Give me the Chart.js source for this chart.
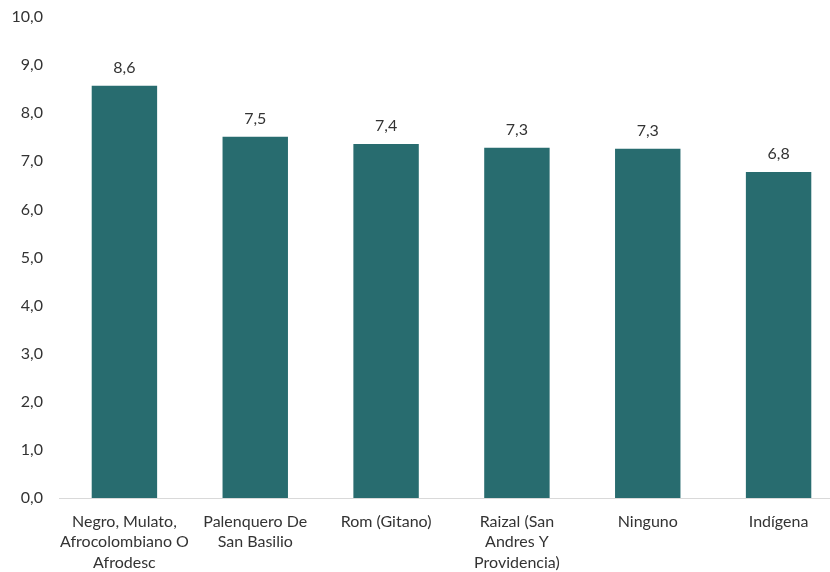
<!DOCTYPE html>
<html>
<head>
<meta charset="utf-8">
<script src="https://cdn.jsdelivr.net/npm/chart.js@4.4.1/dist/chart.umd.min.js"></script>
<style>
  html, body { margin: 0; padding: 0; background: #fff; overflow: hidden; }
  #wrap { width: 844px; height: 572px; position: relative; }
</style>
</head>
<body>
<div id="wrap"><canvas id="chart"></canvas></div>
<script>
// Data
const categories = [
  ['Negro, Mulato,', 'Afrocolombiano O', 'Afrodesc'],
  ['Palenquero De', 'San Basilio'],
  ['Rom (Gitano)'],
  ['Raizal (San', 'Andres Y', 'Providencia)'],
  ['Ninguno'],
  ['Indígena']
];
const values = [8.57, 7.51, 7.36, 7.28, 7.26, 6.78];
const yTicks = [0, 1, 2, 3, 4, 5, 6, 7, 8, 9, 10];

const FONT = 'Lato, "Open Sans", sans-serif';
const fmt = v => v.toFixed(1).replace('.', ',');

// draws the value above each bar
const valueLabels = {
  id: 'valueLabels',
  afterDatasetsDraw(chart) {
    const ctx = chart.ctx;
    const meta = chart.getDatasetMeta(0);
    ctx.save();
    ctx.font = '16px ' + FONT;
    ctx.fillStyle = '#333';
    ctx.textAlign = 'center';
    ctx.textBaseline = 'bottom';
    meta.data.forEach((bar, i) => {
      ctx.fillText(fmt(values[i]), bar.x, bar.y - 10);
    });
    ctx.restore();
  }
};

new Chart(document.getElementById('chart').getContext('2d'), {
  type: 'bar',
  data: {
    labels: categories,
    datasets: [{
      data: values,
      backgroundColor: '#286c6f',
      categoryPercentage: 1,
      barPercentage: 0.5
    }]
  },
  plugins: [valueLabels],
  options: {
    responsive: true,
    maintainAspectRatio: false,
    animation: false,
    layout: { padding: { top: 17, right: 0, left: 0, bottom: 0 } },
    plugins: {
      legend: { display: false },
      tooltip: { enabled: false }
    },
    scales: {
      x: {
        afterFit: axis => {
          axis.height = 74;
          axis.paddingLeft = 0;
          axis.paddingRight = 0;
        },
        grid: { display: false, drawTicks: false },
        border: { display: true, color: '#d9d9d9', width: 1 },
        ticks: {
          color: '#333',
          font: { family: FONT, size: 16, lineHeight: 1.3 },
          padding: 13,
          maxRotation: 0,
          autoSkip: false
        }
      },
      y: {
        min: 0,
        max: 10,
        afterBuildTicks: axis => { axis.ticks = yTicks.map(v => ({ value: v })); },
        afterFit: axis => {
          axis.width = 59;
          axis.paddingTop = 0;
          axis.paddingBottom = 0;
        },
        grid: { display: false, drawTicks: false },
        border: { display: false },
        ticks: {
          color: '#333',
          font: { family: FONT, size: 16 },
          padding: 16,
          callback: v => fmt(v)
        }
      }
    }
  }
});
</script>
</body>
</html>
